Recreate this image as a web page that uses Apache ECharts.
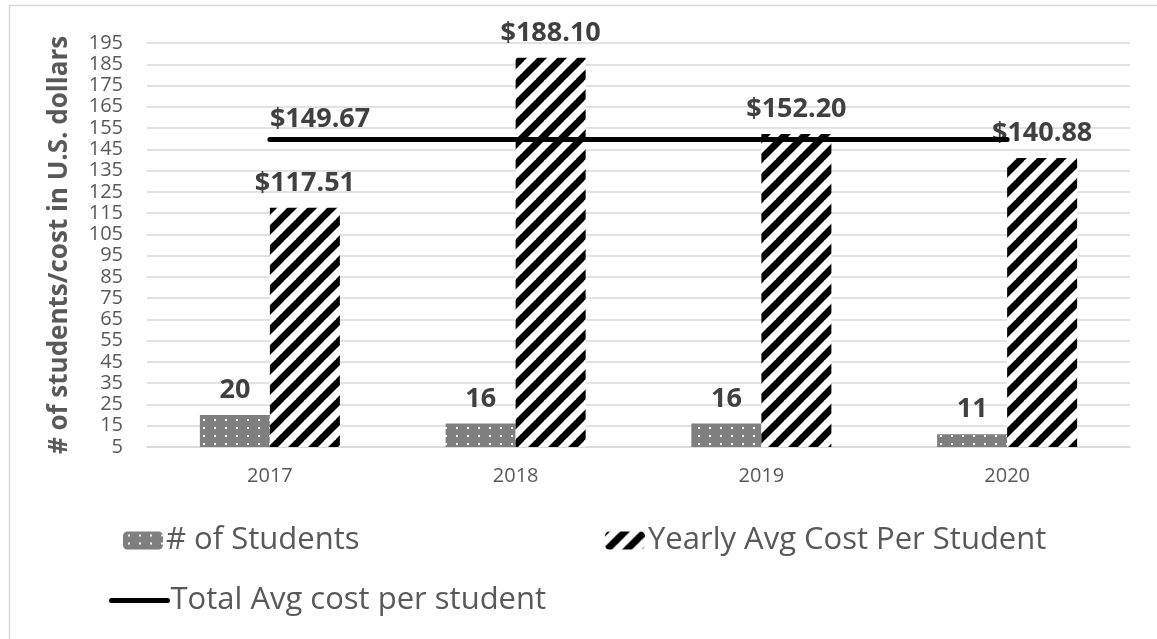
<!DOCTYPE html>
<html>
<head>
<meta charset="utf-8">
<script src="https://cdn.jsdelivr.net/npm/echarts@6/dist/echarts.min.js"></script>
<style>
  html, body { margin: 0; padding: 0; background: #fff; }
  #chartCost { width: 1157px; height: 639px; }
</style>
</head>
<body>
<div id="chartCost"></div>
<script>
var years = ['2017', '2018', '2019', '2020'];
var students = [20, 16, 16, 11];
var avgCost = [117.51, 188.10, 152.20, 140.88];
var totalAvg = [149.67, 149.67, 149.67, 149.67];
var seriesNames = ['# of Students', 'Yearly Avg Cost Per Student', 'Total Avg cost per student'];

// dotted fill for the students bars
function dotPattern() {
  var c = document.createElement('canvas');
  c.width = 11;
  c.height = 8;
  var ctx = c.getContext('2d');
  ctx.fillStyle = '#7f7f7f';
  ctx.fillRect(0, 0, 11, 8);
  ctx.fillStyle = '#ffffff';
  ctx.fillRect(5, 3, 2, 2);
  return c;
}

// wide upward diagonal stripes for cost bars
function stripePattern() {
  var s = 20;
  var c = document.createElement('canvas');
  c.width = s;
  c.height = s;
  var ctx = c.getContext('2d');
  ctx.fillStyle = '#ffffff';
  ctx.fillRect(0, 0, s, s);
  ctx.strokeStyle = '#000000';
  ctx.lineWidth = 7;
  for (var k = -1; k <= 1; k++) {
    ctx.beginPath();
    ctx.moveTo(k * s - 2, s + 2);
    ctx.lineTo(k * s + s + 2, -2);
    ctx.stroke();
  }
  return c;
}

var labelFont = 'Open Sans';
var gray = '#595959';
var legendText = { color: gray, fontSize: 31, fontFamily: labelFont, padding: [0, 0, 0, -2] };

var option = {
  animation: false,
  graphic: [{
    type: 'rect',
    left: 7,
    top: 3,
    shape: { width: 1170, height: 660 },
    style: { fill: 'none', stroke: '#d9d9d9', lineWidth: 1.5 },
    silent: true
  }],
  grid: {
    left: 147,
    right: 27,
    top: 43,
    bottom: 192
  },
  legend: [
    {
      data: [seriesNames[0]],
      left: 118,
      top: 520,
      itemWidth: 40,
      itemHeight: 18,
      textStyle: legendText
    },
    {
      data: [seriesNames[1]],
      left: 600,
      top: 520,
      itemWidth: 40,
      itemHeight: 18,
      textStyle: legendText
    },
    {
      data: [seriesNames[2]],
      left: 104,
      top: 580,
      itemWidth: 56,
      itemHeight: 18,
      itemStyle: { color: 'rgba(0,0,0,0)', borderColor: 'rgba(0,0,0,0)', borderWidth: 0 },
      lineStyle: { color: '#000000', width: 5, cap: 'round' },
      textStyle: legendText
    }
  ],
  xAxis: {
    type: 'category',
    data: years,
    axisTick: { show: false },
    axisLine: { lineStyle: { color: '#d9d9d9', width: 1.5 } },
    axisLabel: { color: gray, fontSize: 20, fontFamily: labelFont, margin: 19 }
  },
  yAxis: {
    type: 'value',
    min: 5,
    max: 195,
    interval: 10,
    name: '# of students/cost in U.S. dollars',
    nameLocation: 'middle',
    nameGap: 74,
    nameTextStyle: { color: gray, fontSize: 26, fontWeight: 'bold', fontFamily: labelFont },
    axisLine: { show: false },
    axisTick: { show: false },
    axisLabel: { color: gray, fontSize: 20, fontFamily: labelFont, margin: 24 },
    splitLine: { lineStyle: { color: '#d9d9d9', width: 1.5 } }
  },
  series: [
    {
      name: seriesNames[0],
      type: 'bar',
      data: students,
      barWidth: 70,
      barGap: '0%',
      itemStyle: { color: { image: dotPattern(), repeat: 'repeat' } },
      label: {
        show: true,
        position: 'top',
        distance: 11,
        color: '#404040',
        fontSize: 27,
        fontWeight: 'bold',
        fontFamily: labelFont
      }
    },
    {
      name: seriesNames[1],
      type: 'bar',
      data: avgCost,
      barWidth: 70,
      barGap: '0%',
      itemStyle: { color: { image: stripePattern(), repeat: 'repeat' } },
      label: {
        show: true,
        position: 'top',
        distance: 11,
        color: '#404040',
        fontSize: 27,
        fontWeight: 'bold',
        fontFamily: labelFont,
        formatter: function(p) {
          return '$' + p.value.toFixed(2);
        }
      }
    },
    {
      name: seriesNames[2],
      type: 'line',
      data: totalAvg,
      symbol: 'circle',
      symbolSize: 1,
      showSymbol: true,
      lineStyle: { color: '#000000', width: 5, cap: 'round' },
      itemStyle: { color: '#000000' },
      label: {
        show: true,
        position: 'top',
        align: 'left',
        distance: 6,
        color: '#404040',
        fontSize: 27,
        fontWeight: 'bold',
        fontFamily: labelFont,
        formatter: function(p) {
          return p.dataIndex === 0 ? '$' + p.value.toFixed(2) : '';
        }
      }
    }
  ]
};

var chartCost = echarts.init(document.getElementById('chartCost'));
chartCost.setOption(option);

window.addEventListener('resize', () => {
  chartCost.resize();
});
</script>
</body>
</html>
